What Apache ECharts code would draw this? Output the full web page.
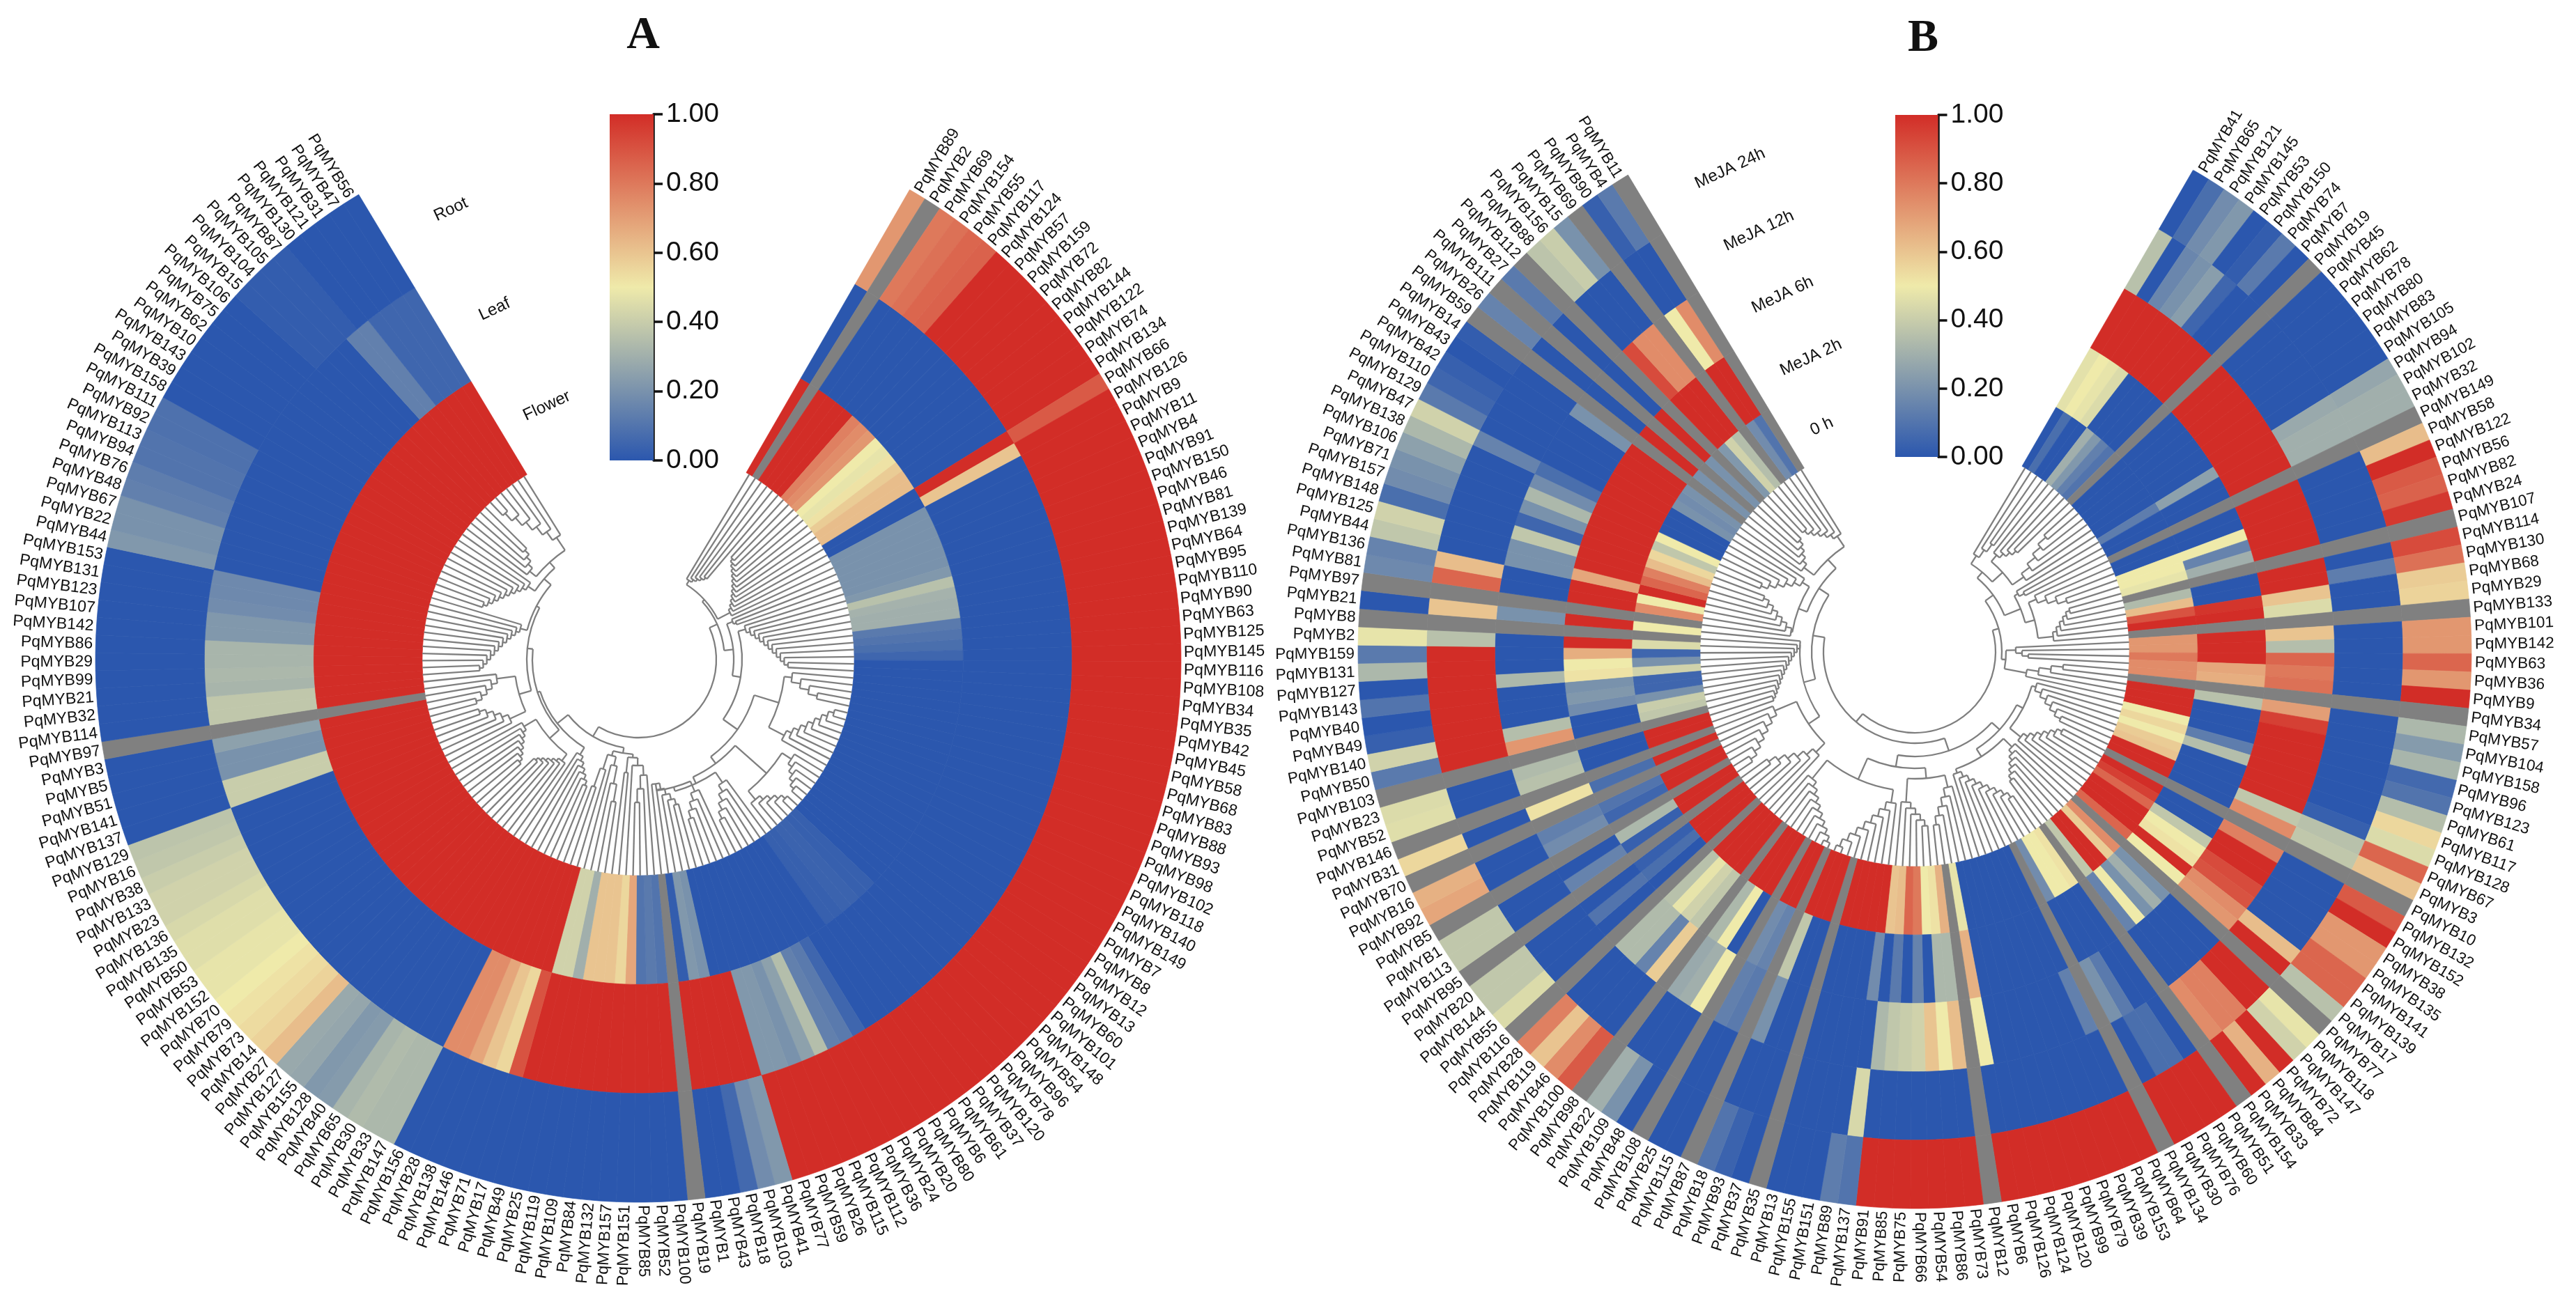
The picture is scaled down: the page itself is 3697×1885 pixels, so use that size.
<!DOCTYPE html>
<html><head><meta charset="utf-8">
<style>html,body{margin:0;padding:0;background:#fff}#c{width:3697px;height:1885px}</style>
<script src="https://cdn.jsdelivr.net/npm/echarts@6/dist/echarts.min.js"></script>
</head><body><div id="c"></div>
<script>
const genesA=[89,2,69,154,55,117,124,57,159,72,82,144,122,74,134,66,126,9,11,4,91,150,46,81,139,64,95,110,90,63,
125,145,116,108,34,35,42,45,58,68,83,88,93,98,102,118,140,149,7,8,12,13,60,101,148,54,96,78,120,37,
61,6,80,20,24,36,112,115,26,59,77,41,103,18,43,1,19,100,52,85,151,157,132,84,109,119,25,49,17,71,
146,138,28,156,147,33,30,65,40,128,155,127,27,14,73,79,70,152,53,50,135,136,23,133,38,16,129,137,141,51,
5,3,97,114,32,21,99,29,86,142,107,123,131,153,44,22,67,48,76,94,113,92,111,158,39,143,10,62,75,106,
15,104,105,87,130,121,31,47,56];
const genesB=[41,65,121,145,53,150,74,7,19,45,62,78,80,83,105,94,102,32,149,58,122,56,82,24,107,114,130,68,29,133,
101,142,63,36,9,34,57,104,158,96,123,61,117,128,67,3,10,132,152,38,135,141,139,17,77,118,147,72,84,33,
154,51,60,76,30,134,64,153,39,79,99,120,124,126,6,12,73,86,54,66,75,85,91,137,89,151,155,13,35,37,
93,18,87,115,25,108,48,109,22,98,100,46,119,28,116,55,144,20,95,113,1,5,92,16,70,31,146,52,23,103,
50,140,49,40,143,127,131,159,2,8,21,97,81,136,44,125,148,157,71,106,138,47,129,110,42,43,14,59,26,111,
27,112,88,156,15,69,90,4,11];
const ringsNamesA=['Flower','Leaf','Root'];
const ringsNamesB=['0 h','MeJA 2h','MeJA 6h','MeJA 12h','MeJA 24h'];

const flowerA=[1,null,1,1,1,1,.78,.75,.72,.5,
.48,.52,.58,.62,.62,0,0,.2,.2,.2,
.2,.2,.2,.22,.36,.31,.3,.3,.12,.1,
.08,.05,0,0,0,0,0,0,0,0,
0,0,0,0,0,0,0,0,0,0,
0,0,0,0,0,.03,.03,.04,.04,.03,
.03,0,0,0,0,0,0,0,0,0,
0,0,0,.2,.22,.02,null,.1,.12,.1,
.68,.55,.6,.6,.6,.3,.42,.42,1,1,
1,1,1,1,1,1,1,1,1,1,
1,1,1,1,1,1,1,1,1,1,
1,1,1,1,1,1,1,1,1,1,
1,1,null,1,1,1,1,1,1,1,
1,1,1,1,1,1,1,1,1,1,
1,1,1,1,1,1,1,1,1,1,
1,1,1,1,1,1,1,1,1];
const leafA=[0,null,0,0,0,0,0,0,0,0,
0,0,0,0,0,1,.6,0,0,0,
0,0,0,0,0,0,0,0,0,0,
0,0,0,0,0,0,0,0,0,0,
0,0,0,0,0,0,0,0,0,0,
0,0,0,0,0,0,0,0,0,0,
0,0,0,.05,.12,.14,.35,.25,.2,.22,
.22,1,1,1,1,1,null,1,1,1,
1,1,1,1,1,1,1,1,.9,.55,
.6,.68,.75,.75,0,0,0,0,0,0,
0,0,0,0,0,0,0,0,0,0,
0,0,0,0,0,0,0,.4,.4,.2,
.2,.25,null,.38,.38,.32,.33,.32,.32,.22,
.22,.18,.17,.17,0,0,0,0,0,0,
0,0,0,0,0,0,0,0,0,0,
0,0,0,.14,.14,.05,.05,.05,.05];
const rootA=[.72,null,.8,.82,.85,.86,1,1,1,1,
1,1,1,1,1,.88,1,1,1,1,
1,1,1,1,1,1,1,1,1,1,
1,1,1,1,1,1,1,1,1,1,
1,1,1,1,1,1,1,1,1,1,
1,1,1,1,1,1,1,1,1,1,
1,1,1,1,1,1,1,1,1,1,
1,.22,.18,.06,0,0,null,0,0,0,
0,0,0,0,0,0,0,0,0,0,
0,0,0,0,.33,.33,.34,.32,.23,.22,
.27,.28,.62,.56,.54,.52,.5,.48,.48,.46,
.46,.44,.42,.42,.4,.38,.37,0,0,0,
0,0,null,0,0,0,0,0,0,0,
0,0,0,0,.22,.2,.2,.14,.13,.1,
.1,.09,.09,0,0,0,0,0,0,0,
.02,.02,.02,.02,0,0,0,0,0];

const h0=[0,.08,0,0,.3,.22,.14,.1,null,0,
0,0,0,0,0,.13,0,0,null,0,
0,.5,.5,.48,null,.34,.62,.9,1,null,
.72,.72,.8,.75,.75,null,1,1,1,.5,
.55,.5,.58,.6,1,1,null,1,.95,.85,
1,1,1,.85,null,.75,.58,1,1,.38,
null,.52,.5,.5,.18,null,0,0,0,0,
0,0,0,0,.48,null,.65,.52,.5,.8,
.85,.62,.6,1,1,1,1,1,null,1,
1,1,null,1,1,null,1,1,1,null,
1,1,1,1,null,1,1,1,null,1,
1,null,1,1,null,1,null,1,1,null,
.38,.4,.2,.05,.05,.42,.2,.05,.45,null,
.5,null,.75,.5,1,.85,.78,.62,.55,.38,
.5,0,0,0,.2,.18,.2,null,.2,null,
.2,null,.22,.42,.35,null,.18,.1,null];
const h2=[.47,.5,.48,.45,0,0,0,0,null,0,
0,0,0,0,0,.25,0,0,null,0,
0,.5,.15,.3,null,0,0,.98,1,null,
1,1,1,.68,.66,null,.36,0,0,0,
.13,.35,0,0,0,0,null,0,0,.38,
.5,.52,1,.5,null,.2,.3,.2,.5,.15,
null,0,0,0,0,null,0,0,0,0,
0,0,0,0,.65,null,.33,.33,0,.15,
0,.12,0,.18,0,0,0,0,null,0,
0,.38,null,.15,.18,null,0,.5,.33,null,
.38,.42,.48,.36,null,0,.08,.03,null,.03,
.33,null,.05,.1,null,.08,null,0,0,null,
0,0,.18,.22,.2,.52,.5,.66,1,null,
1,null,1,1,.68,1,1,1,1,1,
1,1,1,1,1,1,1,null,1,null,
1,null,1,1,1,null,1,1,null];
const h6=[1,1,1,1,1,1,1,1,null,1,
1,1,1,1,1,1,1,1,null,1,
1,1,1,1,null,1,1,.6,.45,null,
.6,.35,.85,.8,.82,null,.7,.95,1,1,
1,1,1,1,.38,.75,null,.78,1,1,
.92,.9,.75,.72,null,0,0,0,0,0,
null,0,0,.12,.2,null,.14,0,0,0,
0,0,0,0,.5,null,.62,.5,.6,.42,
.4,.38,.33,0,0,0,0,0,null,0,
0,.2,null,.12,.14,null,.5,.3,.28,null,
.58,.15,.34,.34,null,0,.1,0,null,.15,
0,null,.18,.14,null,.52,null,.36,.34,null,
.72,.35,0,0,0,.33,0,0,0,null,
.2,null,0,0,.2,.2,.38,.05,.2,.33,
.18,.08,0,0,0,0,.2,null,0,null,
0,null,.92,.75,.75,null,.5,.75,null];
const h12=[.36,0,.16,.2,.24,.05,0,0,null,0,
0,0,0,0,0,.28,.3,.3,null,0,
0,0,0,0,null,0,.13,0,0,null,
0,0,0,0,0,null,0,0,0,0,
0,0,0,.03,.36,.38,null,0,0,0,
0,0,.62,1,null,1,1,.78,.78,.75,
null,0,.08,.08,0,null,0,0,0,0,
0,0,0,0,0,null,0,0,0,0,
0,0,0,.44,0,0,0,0,null,0,
0,0,null,0,0,null,0,0,0,null,
0,0,0,0,null,0,0,0,null,0,
0,null,0,0,null,0,null,0,0,null,
1,1,1,1,1,1,1,1,.36,null,
.6,null,.85,.62,0,0,0,0,0,0,
0,.15,0,0,0,0,0,null,0,null,
0,null,0,0,0,null,0,0,null];
const h24=[0,.08,.18,.22,0,.02,.12,0,null,0,
0,0,0,0,0,.27,.3,.3,null,.62,
1,.88,.86,.97,null,.92,.82,.58,.56,null,
.72,.72,.85,.72,1,null,.33,.23,.32,.06,
.1,.35,.55,.45,.85,.6,null,.88,1,.72,
.72,.85,.85,.36,null,.48,.42,1,.65,1,
null,1,1,1,1,null,1,1,1,1,
1,1,1,1,1,null,1,1,1,1,
1,1,1,.1,.13,0,0,0,null,0,
.04,.1,null,0,0,null,0,.2,.3,null,
.88,.75,.6,.78,null,.45,.38,.38,null,.38,
.38,null,.68,.65,null,.55,null,.46,.45,null,
.12,.42,.03,0,.1,0,.33,.12,.48,null,
0,null,.17,.15,.38,.42,.08,.18,.2,.25,
.33,.42,.12,.05,.03,0,.02,null,.15,null,
.12,null,.37,.4,.2,null,.03,.12,null];

// dendrograms: [merge radius, child, child...]; 0 = a leaf; ['c',n,a,b,rev] = ladder of n leaves
const treeA=[112,
 [124,
  [128,['c',6,135,152],['c',13,148,198,1]],
  [137,['c',3,146,150],
   [149,['c',12,160,215],
    [174,
     [211,['c',5,222,262],['c',9,236,291,1]],
     [186,
      [246,['c',6,262,290],['c',6,262,290,1]],
      [196,['c',6,214,258],
       [190,['c',5,206,240],['c',6,180,215,1]]]]]]]],
 [128,
  [136,
   [141,[152,['c',4,166,205],0],['c',2,163,163]],
   [143,['c',4,156,207,1],['c',3,165,193]]],
  [148,['c',7,160,196,1],
   [152,
    [170,['c',7,182,206],['c',8,190,225,1]],
    [160,
     [178,['c',6,203,240],['c',6,205,240,1]],
     [165,['c',12,175,228,1],
      [178,['c',10,190,236,1],
       [189,['c',5,201,226],['c',7,211,284,1]]]]]]]]];
const treeB=[116,
 [125,
  [139,
   [150,['c',4,164,190],[170,['c',5,182,205],['c',6,190,250,1]]],
   [164,['c',3,170,178],[178,['c',5,190,230],['c',7,200,230,1]]]],
  [131,['c',4,145,163],['c',5,163,214,1]]],
 [131,
  [150,
   [165,
    [175,['c',7,181,230],['c',8,195,240,1]],
    [178,['c',7,195,230],['c',10,184,250,1]]],
   [167,
    [182,['c',6,200,250],['c',6,216,250,1]],
    [200,['c',9,219,299],['c',10,234,300,1]]]],
  [148,
   [165,[184,['c',7,202,262],['c',8,218,281,1]],['c',14,165,214,1]],
   [165,[178,['c',8,180,230],['c',7,190,240,1]],
    [182,['c',6,200,230],['c',7,200,235,1]]]]]];

const N=159;
[flowerA,leafA,rootA,h0,h2,h6,h12,h24,genesA,genesB].forEach((a,k)=>{if(a.length!==N)throw new Error('len '+k+' '+a.length)});
const C_BLUE='#2b57ae',C_YEL='#efeaaa',C_RED='#d22d27',C_NA='#808080';
const stops=[C_BLUE,C_YEL,C_RED];
const cellColor=v=>v<0?C_NA:echarts.color.lerp(v,stops);

function comb(n,a,b,rev){
  if(n===1)return 0;
  const next=comb(n-1,n>2?a+(b-a)/Math.max(1,n-2):b,b,rev);
  return rev?[a,next,0]:[a,0,next];
}
function flatten(tree,inner){
  const segs=[];let next=0;
  (function walk(node){
    if(node===0){return{pos:(next++)+.5,r:inner}}
    if(node[0]==='c')return walk(comb(node[1],node[2],node[3],node[4]));
    const r=node[0],kids=node.slice(1).map(walk);
    kids.forEach(k=>segs.push([1,r,k.r,k.pos,0]));
    const p0=kids[0].pos,p1=kids[kids.length-1].pos;
    segs.push([0,r,r,p0,p1]);
    return{pos:(p0+p1)/2,r};
  })(tree);
  if(next!==N)throw new Error('tree leaves '+next);
  return segs;
}
const GAP_START=30,SPAN=299,AXMAX=N*360/SPAN;
const ang=(api,p,q)=>Math.atan2(p[1]-q.cy,p[0]-q.cx);

function heatSeries(pi,rings,inner,th){
  const data=[];rings.forEach((arr,ri)=>arr.forEach((v,i)=>data.push([ri,i,v==null?-1:v])));
  return{type:'custom',coordinateSystem:'polar',polarIndex:pi,silent:true,clip:false,data,
    renderItem(p,api){
      const ri=api.value(0),i=api.value(1),v=api.value(2),cs=p.coordSys;
      const r0=inner+ri*th,r1=r0+th;
      const c=cellColor(v);
      return{type:'sector',shape:{cx:cs.cx,cy:cs.cy,r0:r0,r:r1,startAngle:ang(api,api.coord([r0,i]),cs),endAngle:ang(api,api.coord([r0,i+1]),cs),clockwise:true},
        style:{fill:c,stroke:c,lineWidth:.7}};
    }};
}
function treeSeries(pi,tree,inner){
  return{type:'custom',coordinateSystem:'polar',polarIndex:pi,silent:true,clip:false,z:3,data:flatten(tree,inner),
    renderItem(p,api){
      const k=api.value(0),r=api.value(1),r2=api.value(2),a=api.value(3),b=api.value(4),cs=p.coordSys;
      const st={stroke:'#7f7f7f',fill:null,lineWidth:2.3};
      if(k===1){const A=api.coord([r,a]),B=api.coord([r2,a]);
        return{type:'line',shape:{x1:A[0],y1:A[1],x2:B[0],y2:B[1]},style:st};}
      return{type:'arc',shape:{cx:cs.cx,cy:cs.cy,r,startAngle:ang(api,api.coord([r,a]),cs),endAngle:ang(api,api.coord([r,b]),cs),clockwise:true},style:st};
    }};
}
function labelSeries(pi,genes,rText,fs){
  return{type:'custom',coordinateSystem:'polar',polarIndex:pi,silent:true,clip:false,z:4,data:genes.map((g,i)=>[i]),
    renderItem(p,api){
      const i=api.value(0),cs=p.coordSys,q=api.coord([rText,i+.5]);
      let phi=ang(api,q,cs),right=q[0]>=cs.cx;
      return{type:'text',x:q[0],y:q[1],rotation:right?-phi:-(phi+Math.PI),
        style:{text:'PqMYB'+genes[i],fontSize:fs,fontFamily:'"Liberation Sans",Arial,sans-serif',fill:'#111',align:right?'left':'right',verticalAlign:'middle'}};
    }};
}
function ringNameSeries(pi,names,inner,th,degs,dr,fs){
  return{type:'custom',coordinateSystem:'polar',polarIndex:pi,silent:true,clip:false,z:4,data:names.map((n,i)=>[i]),
    renderItem(p,api){
      const i=api.value(0),q=api.coord([inner+(i+.5)*th+dr,posOf(360-degs[i])]);
      return{type:'text',x:q[0],y:q[1],rotation:25*Math.PI/180,
        style:{text:names[i],fontSize:fs,fontFamily:'"Liberation Sans",Arial,sans-serif',fill:'#111',align:'center',verticalAlign:'middle'}};
    }};
}
function barSeries(gi){
  return{type:'custom',coordinateSystem:'cartesian2d',xAxisIndex:gi,yAxisIndex:gi,silent:true,data:[[0,0,1,1]],
    renderItem(p,api){
      const a=api.coord([api.value(0),api.value(1)]),b=api.coord([api.value(2),api.value(3)]);
      return{type:'rect',shape:{x:a[0],y:b[1],width:b[0]-a[0],height:a[1]-b[1]},
        style:{fill:new echarts.graphic.LinearGradient(0,0,0,1,[{offset:0,color:C_RED},{offset:.5,color:C_YEL},{offset:1,color:C_BLUE}])}};
    }};
}
const A={cx:916,cy:947,R:779,inner:310},B={cx:2748,cy:936,R:799,inner:308};
const thA=(A.R-A.inner)/3,thB=(B.R-B.inner)/5;
const posOf=deg=>(deg-GAP_START)/(SPAN/N);
const axisCommon={min:0,max:AXMAX,startAngle:90-GAP_START,clockwise:true,show:false,type:'value'};
const yAx=(gi)=>({gridIndex:gi,type:'value',position:'right',min:0,max:1,interval:.2,
  axisLine:{show:true,onZero:false,lineStyle:{color:'#111',width:3.5}},axisTick:{show:true,length:13,lineStyle:{color:'#111',width:3.5}},splitLine:{show:false},
  axisLabel:{show:true,margin:18,fontSize:39,color:'#111',fontFamily:'"Liberation Sans",Arial,sans-serif',formatter:v=>v.toFixed(2)}});
const chart=echarts.init(document.getElementById('c'),null,{renderer:'canvas',width:3697,height:1885});
chart.setOption({
  animation:false,backgroundColor:'#fff',
  title:[
    {text:'A',left:918,top:14,textAlign:'center',textStyle:{fontFamily:'"Liberation Serif",serif',fontWeight:'bold',fontSize:66,color:'#111'}},
    {text:'B',left:2755,top:18,textAlign:'center',textStyle:{fontFamily:'"Liberation Serif",serif',fontWeight:'bold',fontSize:66,color:'#111'}}],
  polar:[{center:[A.cx,A.cy],radius:[0,A.R]},{center:[B.cx,B.cy],radius:[0,B.R]}],
  angleAxis:[{...axisCommon,polarIndex:0},{...axisCommon,polarIndex:1}],
  radiusAxis:[{polarIndex:0,type:'value',min:0,max:A.R,show:false},{polarIndex:1,type:'value',min:0,max:B.R,show:false}],
  grid:[{left:875,top:164,width:63,height:497,containLabel:false},{left:2720,top:165,width:61.5,height:491,containLabel:false}],
  xAxis:[{gridIndex:0,type:'value',min:0,max:1,show:false},{gridIndex:1,type:'value',min:0,max:1,show:false}],
  yAxis:[yAx(0),yAx(1)],
  series:[
    heatSeries(0,[flowerA,leafA,rootA],A.inner,thA),
    heatSeries(1,[h0,h2,h6,h12,h24],B.inner,thB),
    treeSeries(0,treeA,A.inner),
    treeSeries(1,treeB,B.inner),
    labelSeries(0,genesA,A.R+4,23),
    labelSeries(1,genesB,B.R+5,22.5),
    ringNameSeries(0,ringsNamesA,A.inner,thA,[19.8,22.3,22.6],-1,24),
    ringNameSeries(1,ringsNamesB,B.inner,thB,[22.4,19.4,20.3,20.3,20.9],-7,24),
    barSeries(0),barSeries(1)
  ]
});
</script></body></html>
